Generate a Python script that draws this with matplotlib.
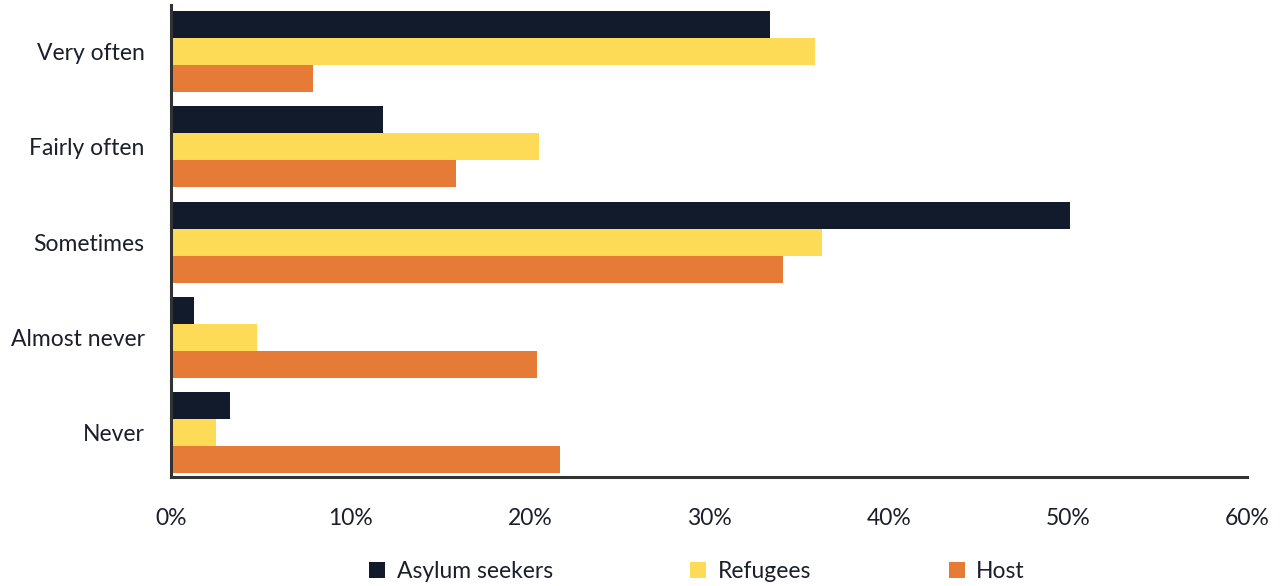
import matplotlib
matplotlib.use("Agg")
import matplotlib.pyplot as plt
import numpy as np

categories = ["Very often", "Fairly often", "Sometimes", "Almost never", "Never"]
asylum = [33.4, 11.8, 50.1, 1.3, 3.3]
refugees = [35.9, 20.5, 36.3, 4.8, 2.5]
host = [7.9, 15.9, 34.1, 20.4, 21.7]
xticks = [0, 10, 20, 30, 40, 50, 60]

SERIES = [
    ("Asylum seekers", asylum, "#121b2b"),
    ("Refugees", refugees, "#fddb56"),
    ("Host", host, "#e67b38"),
]

plt.rcParams["font.family"] = ["Lato", "DejaVu Sans"]

fig = plt.figure(figsize=(12.86, 5.86), dpi=100)
ax = fig.add_axes([0.133, 0.186, 0.837, 0.805])

y = np.arange(len(categories))
h = 0.284
for i, (label, vals, color) in enumerate(SERIES):
    ax.barh(y + (i - 1) * h, vals, height=h, color=color, label=label)

ax.set_ylim(4.47, -0.49)
ax.set_xlim(0, 60)
ax.set_yticks(y)
ax.set_yticklabels(categories, fontsize=16.5, color="#1a1f2b")
ax.set_xticks(xticks)
ax.set_xticklabels([f"{t}%" for t in xticks], fontsize=16.5, color="#1a1f2b")
ax.tick_params(length=0)
ax.tick_params(axis="x", pad=22)
ax.tick_params(axis="y", pad=19)
for s in ("top", "right"):
    ax.spines[s].set_visible(False)
for s in ("left", "bottom"):
    ax.spines[s].set_linewidth(2.2)
    ax.spines[s].set_color("#333333")

fig.legend(loc="lower center", bbox_to_anchor=(0.542, -0.028), ncol=3,
           frameon=False, fontsize=16.5, handlelength=0.7, handleheight=0.7,
           handletextpad=0.5, columnspacing=6.0, labelcolor="#1a1f2b")

fig.savefig("out.png", dpi=100)
